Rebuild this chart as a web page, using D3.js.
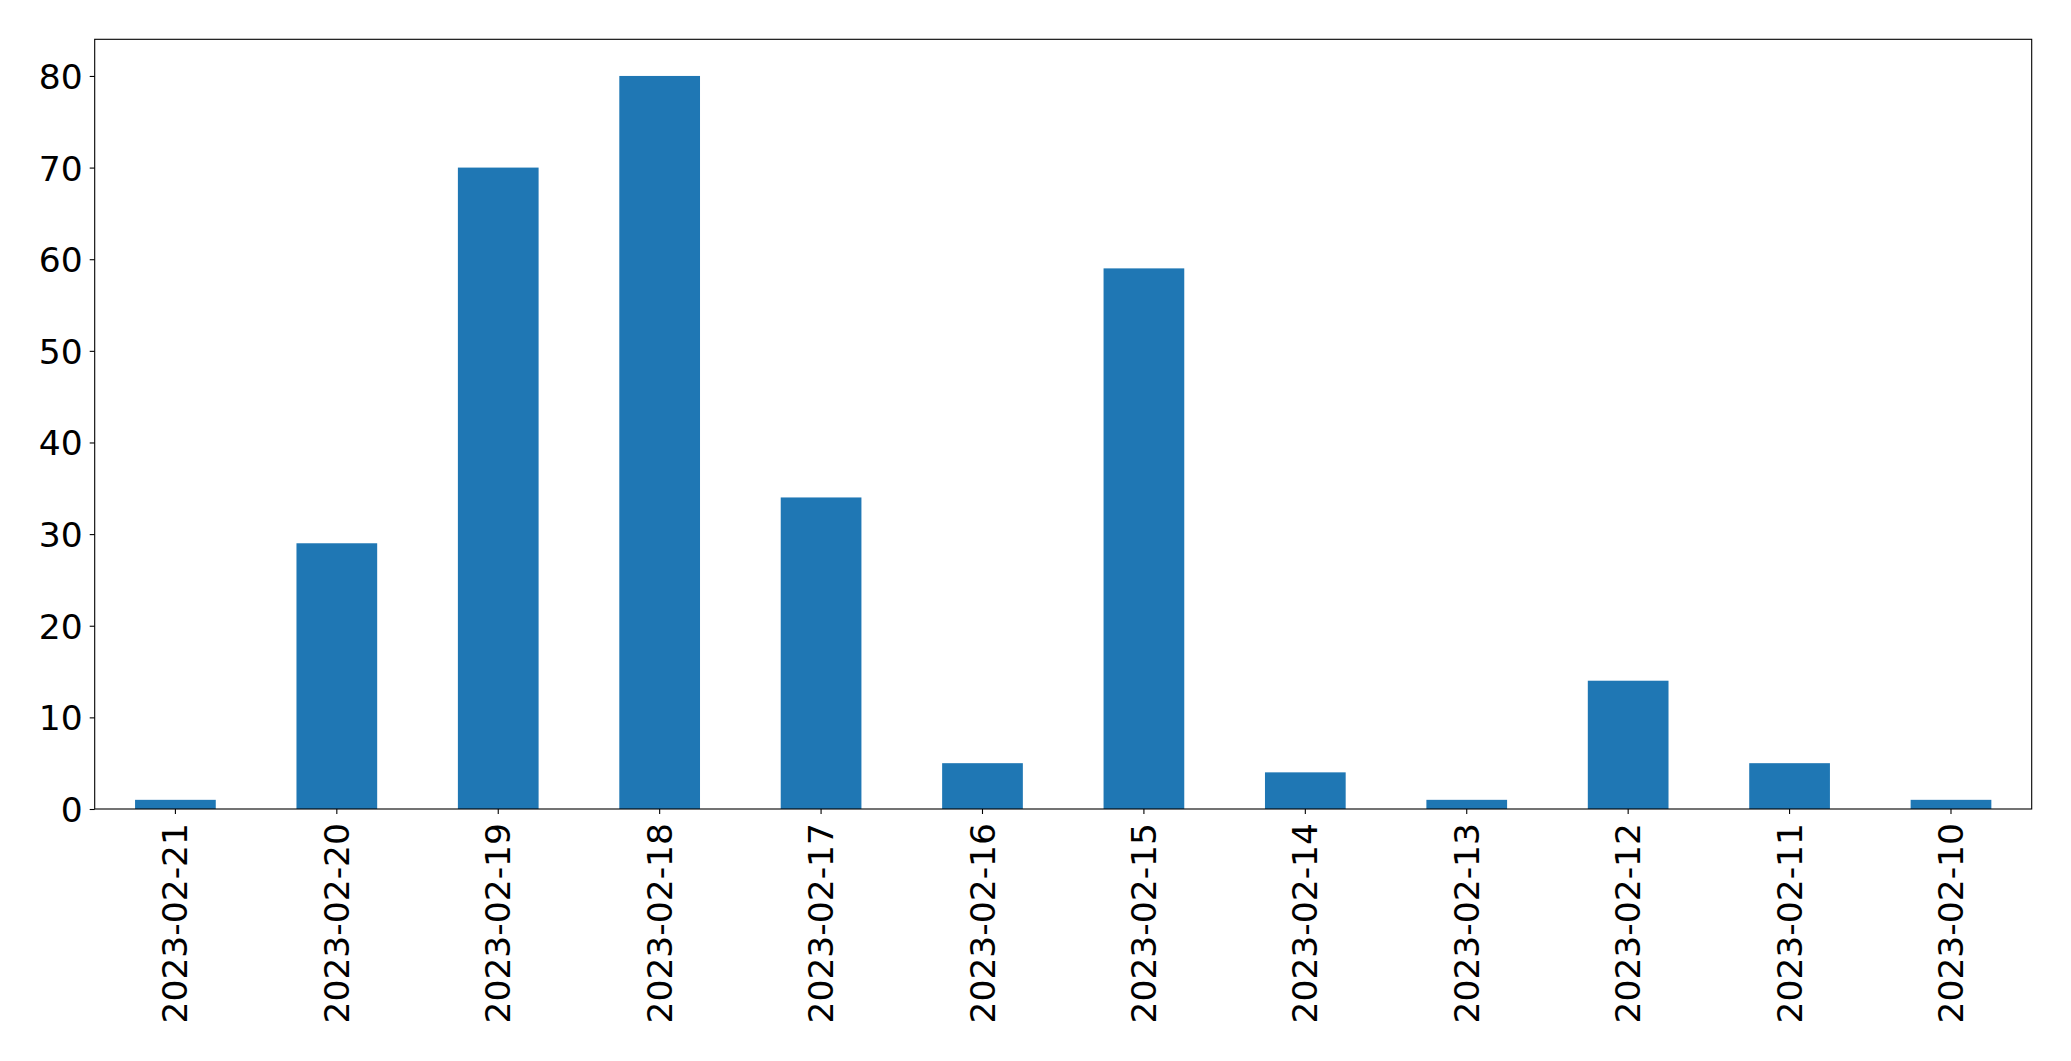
<!DOCTYPE html>
<html><head><meta charset="utf-8">
<script src="https://cdn.jsdelivr.net/npm/d3@7"></script>
<style>html,body{margin:0;padding:0;background:#fff;}svg{display:block;}</style>
</head><body>
<script>
const categories = ["2023-02-21","2023-02-20","2023-02-19","2023-02-18","2023-02-17","2023-02-16","2023-02-15","2023-02-14","2023-02-13","2023-02-12","2023-02-11","2023-02-10"];
const values = [1, 29, 70, 80, 34, 5, 59, 4, 1, 14, 5, 1];
const yTicks = [0, 10, 20, 30, 40, 50, 60, 70, 80];

const W = 2071, H = 1061;
const m = {left: 94.7, right: 2031.7, top: 39.3, bottom: 809};
const svg = d3.select("body").append("svg").attr("width", W).attr("height", H);

const x = d3.scaleBand().domain(categories).range([m.left, m.right]).paddingInner(0.5).paddingOuter(0.25);
const y = d3.scaleLinear().domain([0, 84]).range([m.bottom, m.top]);

svg.append("g").selectAll("rect").data(values).join("rect")
  .attr("x", (d,i) => x(categories[i]))
  .attr("width", x.bandwidth())
  .attr("y", d => y(d))
  .attr("height", d => y(0) - y(d))
  .attr("fill", "#1f77b4");

const font = "DejaVu Sans, sans-serif";
const fs = 34.5;

const ya = svg.append("g").attr("transform", `translate(${m.left},0)`)
  .call(d3.axisLeft(y).tickValues(yTicks).tickSize(5).tickPadding(7).tickFormat(d3.format("d")));
ya.select(".domain").remove();
ya.selectAll("line").attr("stroke", "#000").attr("stroke-width", 1.1);
ya.selectAll("text").attr("font-family", font).attr("font-size", fs).attr("fill", "#000").attr("dy", "0.36em");

const xa = svg.append("g").attr("transform", `translate(0,${m.bottom})`)
  .call(d3.axisBottom(x).tickSize(5).tickPadding(0));
xa.select(".domain").remove();
xa.selectAll("line").attr("stroke", "#000").attr("stroke-width", 1.1);
xa.selectAll("text").attr("font-family", font).attr("font-size", fs).attr("fill", "#000")
  .attr("transform", "translate(0,14) rotate(-90)")
  .attr("text-anchor", "end").attr("x", 0).attr("y", 0).attr("dy", "0.35em");

svg.append("rect").attr("x", m.left).attr("y", m.top)
  .attr("width", m.right - m.left).attr("height", m.bottom - m.top)
  .attr("fill", "none").attr("stroke", "#000").attr("stroke-width", 1.1);
</script>
</body></html>
